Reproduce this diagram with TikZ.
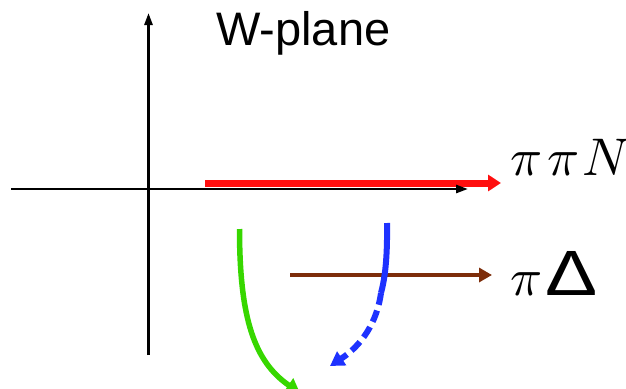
\documentclass[tikz,border=0pt]{standalone}
\usepackage{fontspec}
\setmainfont{Liberation Sans}
\usepackage{unicode-math}
\setmathfont{Latin Modern Math}
\usepackage{graphicx}
\usetikzlibrary{arrows.meta}
\definecolor{cred}{RGB}{255,15,15}
\definecolor{cgreen}{RGB}{55,215,0}
\definecolor{cblue}{RGB}{30,50,255}
\definecolor{cbrown}{RGB}{125,45,10}
\tikzset{
  axis/.style={line width=2.6pt,-{Triangle[length=12pt,width=8pt]}},
  lbl/.style={inner sep=0pt,anchor=base west},
}
\begin{document}
\begin{tikzpicture}[x=1pt,y=-1pt]
\useasboundingbox (0,0) rectangle (626,388);
% axes
\coordinate (vb) at (148.5,355);
\coordinate (vt) at (148.5,13);
\coordinate (hl) at (11,189);
\coordinate (hr) at (468,189);
\draw[axis] (vb) -- (vt);
% red
\coordinate (rs) at (205,183);
\coordinate (re) at (501,183);
\draw[line width=7pt,cred,-{Triangle[length=13pt,width=16pt]}] (rs) -- (re);
\draw[axis] (hl) -- (hr);
% brown
\coordinate (bs) at (290,275);
\coordinate (be) at (492,275);
\draw[line width=4pt,cbrown,-{Triangle[length=13pt,width=14pt]}] (bs) -- (be);
% green
\coordinate (gs) at (239.5,229);
\coordinate (ge) at (300,393);
\draw[line width=5.5pt,cgreen,-{Triangle[length=14pt,width=16pt]}] (gs) .. controls (239.5,320) and (255,362) .. (ge);
% blue
\coordinate (us) at (387,223);
\coordinate (um) at (381,293);
\coordinate (ue) at (330,366);
\draw[line width=6pt,cblue] (us) .. controls (387.5,258) and (385,278) .. (um);
\draw[line width=6pt,cblue,dash pattern=on 12pt off 6pt,-{Triangle[length=14pt,width=16pt]}] (um) .. controls (377,322) and (362,345) .. (ue);
% labels
\node[lbl,font=\fontsize{47}{47}\selectfont] (wp) at (216,45) {W-plane};
\node[lbl,font=\fontsize{53}{53}\selectfont] (pn) at (510,175) {$\pi\mkern2mu\pi\mkern1mu N$};
\node[lbl,font=\fontsize{53}{53}\selectfont] (pd) at (510,295) {$\pi$\hspace{4pt}{\fontsize{64}{64}\selectfont\scalebox{1.22}[1]{Δ}}};
\end{tikzpicture}
\end{document}
